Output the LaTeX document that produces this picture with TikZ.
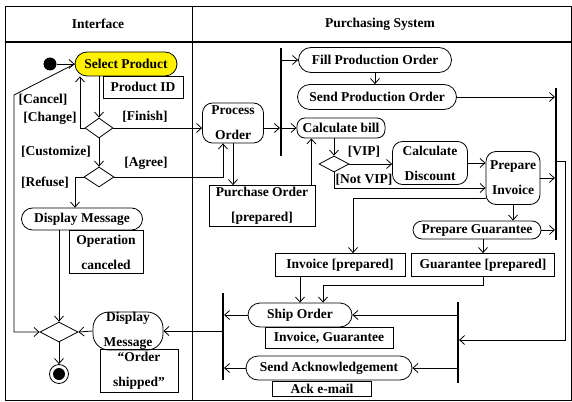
\documentclass[tikz,border=0pt]{standalone}
\usepackage{fontspec}
\setmainfont{Liberation Serif}
\usetikzlibrary{arrows.meta}
\usetikzlibrary{shapes.geometric, shapes.misc}

\begin{document}
\begin{tikzpicture}[x=1pt, y=-1pt, line width=0.8pt,
  >={Straight Barb[length=5pt,width=9pt]},
  font=\fontsize{13.5}{25}\selectfont\bfseries,
  stad/.style={draw, rounded rectangle, inner sep=1pt},
  rbox/.style={draw, rectangle, rounded corners=10pt, align=center, inner sep=1pt},
  obj/.style={draw, rectangle, align=center, inner sep=1pt},
  dec/.style={draw, diamond, inner sep=0pt},
  bar/.style={fill=black, inner sep=0pt, minimum width=1.3pt},
  guard/.style={inner sep=0pt},
  final/.style={circle, draw, minimum size=19pt, inner sep=0pt,
    path picture={\fill[black] (path picture bounding box.center) circle (6pt);}}]
\useasboundingbox (0,0) rectangle (572,401);

% swimlanes
\draw[line width=1pt] (5,7) rectangle (571,400);
\draw[line width=1.6pt] (5,42) -- (571,42);
\draw[line width=1pt] (192,7) -- (192,400);
\node (hdI) at (98,24) {Interface};
\node (hdP) at (380,24) {Purchasing System};

% Interface
\node (start)[circle, fill=black, minimum size=13pt, inner sep=0pt] at (50,64) {};
\node (sel)[stad, fill=yellow, minimum width=104pt, minimum height=24pt] at (126,64) {Select Product};
\node (pid)[obj, minimum width=80pt, minimum height=22pt] at (143,87) {Product ID};
\node (d1)[dec, minimum width=28pt, minimum height=20pt] at (99,128) {};
\node (d2)[dec, minimum width=30pt, minimum height=20pt] at (99,177) {};
\node (dm1)[stad, minimum width=123pt, minimum height=22pt] at (82,219) {Display Message};
\node (opc)[obj, minimum width=74pt, minimum height=43pt] at (106,252) {Operation\\canceled};
\node (mrg)[dec, minimum width=38pt, minimum height=20pt] at (59,332) {};
\node (fin)[final] at (59,374) {};
\node (dm2)[rbox, rounded corners=16pt, inner sep=0pt, minimum width=70pt, minimum height=38pt] at (128,331) {Display\\Message};
\node (osh)[obj, minimum width=78pt, minimum height=43pt] at (139,371) {“Order\\shipped”};

\node (gCan)[guard] at (43,100) {[Cancel]};
\node (gChg)[guard] at (50,118) {[Change]};
\node (gFin)[guard] at (145,117) {[Finish]};
\node (gCus)[guard] at (56,152) {[Customize]};
\node (gAgr)[guard] at (146,163) {[Agree]};
\node (gRef)[guard] at (45,183) {[Refuse]};

% Purchasing System
\node (po)[rbox, minimum width=61pt, minimum height=40pt] at (233,123) {Process\\Order};
\node (fk1)[bar, minimum height=108pt] at (281,102) {};
\node (fpo)[stad, minimum width=155pt, minimum height=25pt] at (375,60) {Fill Production Order};
\node (spo)[stad, minimum width=161pt, minimum height=25pt] at (377,97) {Send Production Order};
\node (cb)[rbox, rounded corners=8pt, minimum width=88pt, minimum height=20pt] at (341,128) {Calculate bill};
\node (pord)[obj, minimum width=106pt, minimum height=41pt] at (262,206) {Purchase Order\\{}[prepared]};
\node (d3)[dec, minimum width=30pt, minimum height=16pt] at (334,164) {};
\node (cd)[rbox, minimum width=75pt, minimum height=43pt] at (430,163) {Calculate\\Discount};
\node (pi)[rbox, minimum width=54pt, minimum height=53pt] at (513,178) {Prepare\\Invoice};
\node (jn1)[bar, minimum height=152pt] at (556,164) {};
\node (pg)[stad, minimum width=130pt, minimum height=18pt] at (477,230) {Prepare Guarantee};
\node (gp)[obj, minimum width=143pt, minimum height=23pt] at (483,265) {Guarantee [prepared]};
\node (ip)[obj, minimum width=130pt, minimum height=23pt] at (340,265) {Invoice [prepared]};
\node (so)[stad, minimum width=106pt, minimum height=24pt] at (300,315) {Ship Order};
\node (ig)[obj, minimum width=128pt, minimum height=21pt] at (329,338) {Invoice, Guarantee};
\node (sa)[stad, minimum width=168pt, minimum height=24pt] at (329,368) {Send Acknowledgement};
\node (ack)[obj, minimum width=99pt, minimum height=15pt] at (322,389) {Ack e-mail};
\node (jn2)[bar, minimum height=87pt] at (223,336) {};
\node (fk2)[bar, minimum height=81pt] at (458,342) {};

\node (gVip)[guard] at (364,152) {[VIP]};
\node (gNot)[guard] at (364,180) {[Not VIP]};

\coordinate (c1) at (14,95);
\coordinate (c2) at (323,285);
\coordinate (c3) at (565,161);
\coordinate (c4) at (565,340);
\coordinate (pq) at ([xshift=-4pt]pord.north east);

% flows
\draw[->] (start) -- (sel.west);
\draw[->] (sel.west) -- (c1) |- (mrg.west);
\draw[->] (d1.north |- sel.south) -- (d1.north);
\draw[->] (d1.west) -| ([xshift=-46pt]sel.south);
\draw[->] (d1.east) -- (d1.east -| po.west);
\draw[->] (d1.south) -- (d2.north);
\draw[->] (d2.west) -| ([xshift=-7pt]dm1.north);
\draw[->] (d2.east) -| ([xshift=-10pt]po.south);
\draw[->] (dm1.south -| mrg.north) -- (mrg.north);
\draw[->] (mrg) -- (fin);
\draw[->] (dm2.west) -- (mrg.east);

\draw[->] (po.east |- cb.west) -- (fk1.west |- cb.west);
\draw[->] (fk1.east |- cb.west) -- (cb.west);
\draw[->] (fk1.east |- fpo.west) -- (fpo.west);
\draw[->] (fpo.south) -- (fpo.south |- spo.north);
\draw[->] (spo.east) -- (spo.east -| jn1.west);
\draw[->] (po.south) -- (po.south |- pord.north);
\draw[->] (pq) -- (pq |- cb.south);
\draw[->] (d3.north |- cb.south) -- (d3.north);
\draw[->] (d3.east) -- (d3.east -| cd.west);
\draw[->] (d3.south) |- ([yshift=-10pt]pi.west);
\draw[->] (cd.east) -- (cd.east -| pi.west);
\draw[->] (pi.east) -- (pi.east -| jn1.west);
\draw[->] ([yshift=-20pt]pi.west) -| ([xshift=13pt]ip.north);
\draw[->] (pi.south) -- (pi.south |- pg.north);
\draw[->] (pg.east) -- (pg.east -| jn1.west);
\draw[->] (gp.north |- pg.south) -- (gp.north);
\draw[->] (gp.south) |- (c2) -- (c2 |- so.north);
\draw[->] (so.north |- ip.south) -- (so.north);
\draw[->] (so.west) -- (so.west -| jn2.east);
\draw[->] (sa.west) -- (sa.west -| jn2.east);
\draw[->] (jn2.west |- dm2.east) -- (dm2.east);
\draw[->] (jn1.east |- c3) -- (c3) -- (c4) -- (c4 -| fk2.east);
\draw[->] (fk2.west |- so.east) -- (so.east);
\draw[->] (fk2.west |- sa.east) -- (sa.east);
\end{tikzpicture}
\end{document}
